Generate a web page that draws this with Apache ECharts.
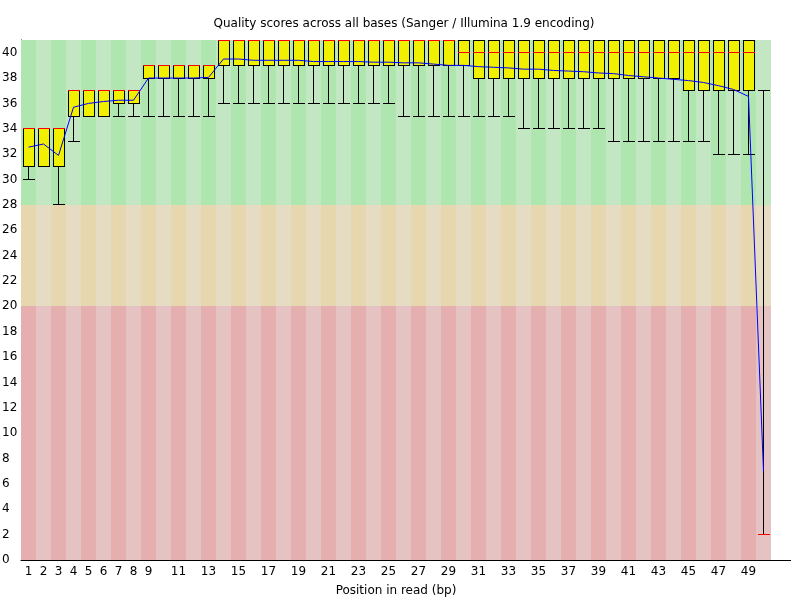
<!DOCTYPE html>
<html lang="en">
<head>
<meta charset="utf-8">
<title>Quality scores across all bases</title>
<script src="https://cdn.jsdelivr.net/npm/echarts@6/dist/echarts.min.js"></script>
<style>
    html, body { margin: 0; padding: 0; background: #fff; }
    #chart { width: 800px; height: 600px; }
</style>
</head>
<body>
<div id="chart"></div>
<script>
// position in read (bp)
var positions = ['1','2','3','4','5','6','7','8','9','10',
                 '11','12','13','14','15','16','17','18','19','20',
                 '21','22','23','24','25','26','27','28','29','30',
                 '31','32','33','34','35','36','37','38','39','40',
                 '41','42','43','44','45','46','47','48','49','50'];
var xTickLabels = ['1','2','3','4','5','6','7','8','9','11','13','15','17','19','21','23',
                   '25','27','29','31','33','35','37','39','41','43','45','47','49'];

// per position: 10th percentile, lower quartile, median, upper quartile, 90th percentile, mean
var lowerWhisker = [30,31,28,33,35,35,35,35,35,35, 35,35,35,36,36,36,36,36,36,36,
                    36,36,36,36,36,35,35,35,35,35, 35,35,35,34,34,34,34,34,34,33,
                    33,33,33,33,33,33,32,32,32,2];
var lowerQuartile = [31,31,31,35,35,35,36,36,38,38, 38,38,38,39,39,39,39,39,39,39,
                     39,39,39,39,39,39,39,39,39,39, 38,38,38,38,38,38,38,38,38,38,
                     38,38,38,38,37,37,37,37,37,2];
var medianScores = [34,34,34,37,37,37,37,37,39,39, 39,39,39,41,41,41,41,41,41,41,
                    41,41,41,41,41,41,41,41,41,40, 40,40,40,40,40,40,40,40,40,40,
                    40,40,40,40,40,40,40,40,40,2];
var upperQuartile = [34,34,34,37,37,37,37,37,39,39, 39,39,39,41,41,41,41,41,41,41,
                     41,41,41,41,41,41,41,41,41,41, 41,41,41,41,41,41,41,41,41,41,
                     41,41,41,41,41,41,41,41,41,2];
var upperWhisker = [34,34,34,37,37,37,37,37,39,39, 39,39,39,41,41,41,41,41,41,41,
                    41,41,41,41,41,41,41,41,41,41, 41,41,41,41,41,41,41,41,41,41,
                    41,41,41,41,41,41,41,41,41,37];
var meanScores = [32.55,32.8,31.9,35.7,36.0,36.15,36.25,36.25,38.0,38.0,
                  38.0,38.0,38.05,39.5,39.5,39.4,39.4,39.4,39.4,39.3,
                  39.3,39.3,39.3,39.25,39.25,39.2,39.2,39.1,39.0,39.0,
                  38.9,38.85,38.8,38.7,38.7,38.6,38.55,38.5,38.4,38.35,
                  38.2,38.1,38.0,37.9,37.8,37.65,37.4,37.1,36.55,7.0];

// quality bands: good / reasonable / poor
var bandLimits = [[28, 41], [20, 28], [0, 20]];
var bandColors = [
    ['rgb(175,230,175)', 'rgb(195,230,195)'],
    ['rgb(230,215,175)', 'rgb(230,220,195)'],
    ['rgb(230,175,175)', 'rgb(230,195,195)']
];

var font = 'DejaVu Sans';

var bgData = [];
positions.forEach(function (p, i) {
    bandLimits.forEach(function (b, k) {
        bgData.push([i, b[0], b[1], k]);
    });
});

var boxData = positions.map(function (p, i) {
    return [i, lowerWhisker[i], lowerQuartile[i], medianScores[i], upperQuartile[i], upperWhisker[i]];
});

// filled rect, keeps the 1px lines sharp
function px(x, y, w, h, color) {
    return { type: 'rect', shape: { x: x, y: y, width: w, height: h }, style: { fill: color } };
}

var chart = echarts.init(document.getElementById('chart'));
var option = {
    animation: false,
    title: {
        text: 'Quality scores across all bases (Sanger / Illumina 1.9 encoding)',
        left: 404,
        textAlign: 'center',
        top: 18,
        padding: 0,
        textStyle: { fontFamily: font, fontSize: 12, fontWeight: 'normal', color: '#000' }
    },
    grid: { left: 21, right: 29, top: 40, bottom: 40, outerBoundsMode: 'none' },
    xAxis: {
        type: 'category',
        data: positions,
        boundaryGap: true,
        name: 'Position in read (bp)',
        nameLocation: 'middle',
        nameGap: 25,
        nameTextStyle: { fontFamily: font, fontSize: 12, color: '#000' },
        axisLine: { lineStyle: { color: '#000', width: 1 } },
        axisTick: { show: false },
        splitLine: { show: false },
        axisLabel: {
            interval: function (idx, val) { return xTickLabels.indexOf(val) >= 0; },
            margin: 6,
            hideOverlap: false,
            fontFamily: font, fontSize: 12, color: '#000'
        }
    },
    yAxis: {
        type: 'value',
        min: 0,
        max: 41,
        interval: 2,
        axisLine: { show: true, lineStyle: { color: '#000', width: 1 } },
        axisTick: { show: false },
        splitLine: { show: false },
        axisLabel: {
            align: 'left',
            margin: 19,
            showMaxLabel: false,
            formatter: function (v) { return v % 2 === 0 ? v : ''; },
            fontFamily: font, fontSize: 12, color: '#000'
        }
    },
    graphic: [{
        type: 'line',
        shape: { x1: 771, y1: 560.5, x2: 791, y2: 560.5 },
        style: { stroke: '#000', lineWidth: 1 }
    }],
    series: [
        {
            type: 'custom',
            name: 'bands',
            silent: true,
            z: 1,
            data: bgData,
            renderItem: function (params, api) {
                var idx = api.value(0);
                var w = api.size([1, 0])[0];
                var top = api.coord([idx, api.value(2)]);
                var bot = api.coord([idx, api.value(1)]);
                var x0 = Math.round(top[0] - w / 2);
                var x1 = Math.round(top[0] + w / 2);
                return {
                    type: 'rect',
                    shape: { x: x0, y: Math.round(top[1]), width: x1 - x0, height: Math.round(bot[1]) - Math.round(top[1]) },
                    style: { fill: bandColors[api.value(3)][idx % 2] }
                };
            }
        },
        {
            type: 'custom',
            name: 'quality',
            silent: true,
            z: 2,
            clip: false,
            data: boxData,
            renderItem: function (params, api) {
                var idx = api.value(0);
                function row(v) {
                    return Math.round(api.coord([idx, v])[1] - 0.5);
                }
                var xm = Math.round(api.coord([idx, 0])[0] - 0.5);
                var xl = xm - 5, bw = 12;
                var rLW = row(api.value(1));
                var rLQ = row(api.value(2));
                var rMed = row(api.value(3));
                var rUQ = row(api.value(4));
                var rUW = row(api.value(5));
                var k = '#000';
                var parts = [
                    px(xl, rUQ, bw, rLQ - rUQ + 1, 'rgb(240,240,0)'),
                    px(xl, rUQ, 1, rLQ - rUQ + 1, k),
                    px(xl + bw - 1, rUQ, 1, rLQ - rUQ + 1, k)
                ];
                if (rUQ !== rMed) {
                    parts.push(px(xl, rUQ, bw, 1, k));
                }
                if (rLQ !== rMed) {
                    parts.push(px(xl, rLQ, bw, 1, k));
                }
                if (rUQ > rUW) {
                    parts.push(px(xm, rUW, 1, rUQ - rUW, k));
                    parts.push(px(xl, rUW, bw, 1, k));
                }
                if (rLW > rLQ) {
                    parts.push(px(xm, rLQ, 1, rLW - rLQ, k));
                    parts.push(px(xl, rLW, bw, 1, k));
                }
                parts.push(px(xl, rMed, bw, 1, 'rgb(255,0,0)'));
                return { type: 'group', children: parts };
            }
        },
        {
            type: 'line',
            name: 'mean',
            data: meanScores,
            symbol: 'none',
            z: 4,
            silent: true,
            lineStyle: { color: 'rgb(0,0,255)', width: 1 }
        }
    ]
};
chart.setOption(option);
</script>
</body>
</html>
